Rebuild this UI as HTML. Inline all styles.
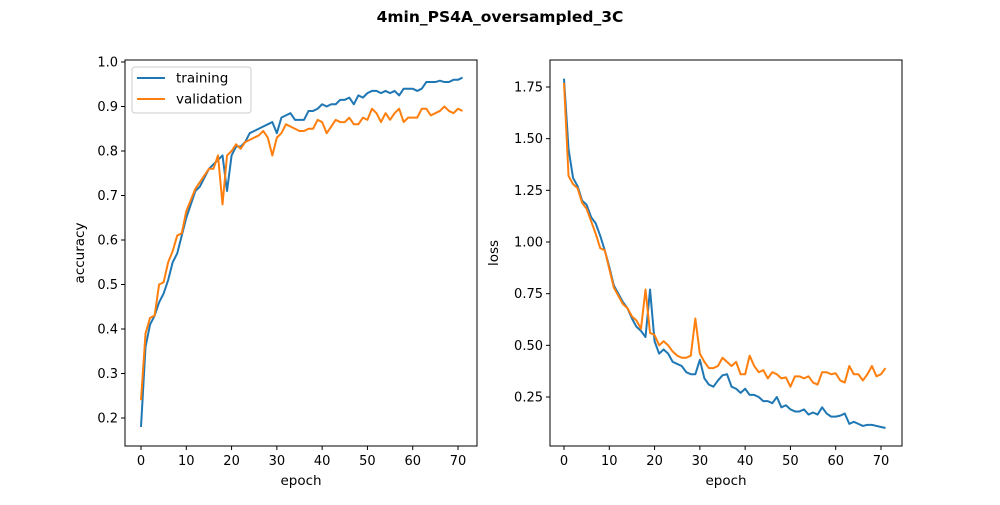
<!DOCTYPE html>
<html><head><meta charset="utf-8"><style>
body{margin:0;background:#fff}
svg{font-family:"DejaVu Sans","Liberation Sans",sans-serif}
</style></head><body>
<svg id="fig" width="1000" height="500" xmlns="http://www.w3.org/2000/svg">
<rect width="1000" height="500" fill="#fff"/>
<text x="500" y="22" text-anchor="middle" font-size="15.5" font-weight="bold">4min_PS4A_oversampled_3C</text>
</svg>
<script>
const epochs = Array.from({length:72},(_,i)=>i);
const accTrain = [0.18,0.36,0.41,0.43,0.46,0.48,0.51,0.55,0.57,0.61,0.65,0.68,0.71,0.72,0.74,0.76,0.77,0.78,0.79,0.71,0.79,0.81,0.81,0.82,0.84,0.845,0.85,0.855,0.86,0.865,0.84,0.875,0.88,0.885,0.87,0.87,0.87,0.89,0.89,0.895,0.905,0.90,0.905,0.905,0.915,0.915,0.92,0.905,0.925,0.92,0.93,0.935,0.935,0.93,0.935,0.93,0.935,0.925,0.94,0.94,0.94,0.935,0.94,0.955,0.955,0.955,0.958,0.955,0.955,0.96,0.96,0.965];
const accVal = [0.24,0.39,0.425,0.43,0.50,0.505,0.55,0.575,0.61,0.615,0.665,0.69,0.715,0.73,0.745,0.76,0.76,0.79,0.68,0.79,0.80,0.815,0.805,0.82,0.825,0.83,0.835,0.845,0.83,0.79,0.83,0.84,0.86,0.855,0.85,0.845,0.845,0.85,0.85,0.87,0.865,0.84,0.855,0.87,0.865,0.865,0.875,0.86,0.86,0.875,0.87,0.895,0.885,0.865,0.885,0.87,0.885,0.895,0.865,0.875,0.875,0.875,0.895,0.895,0.88,0.885,0.89,0.9,0.89,0.885,0.895,0.89];
const lossTrain = [1.79,1.45,1.31,1.27,1.20,1.18,1.12,1.09,1.03,0.96,0.88,0.79,0.75,0.71,0.68,0.63,0.59,0.57,0.54,0.77,0.52,0.46,0.48,0.46,0.42,0.41,0.40,0.37,0.36,0.36,0.43,0.34,0.31,0.30,0.33,0.355,0.36,0.30,0.29,0.27,0.29,0.26,0.26,0.25,0.23,0.23,0.22,0.25,0.20,0.21,0.19,0.18,0.18,0.19,0.165,0.175,0.165,0.20,0.17,0.155,0.155,0.16,0.17,0.12,0.13,0.12,0.11,0.115,0.115,0.11,0.105,0.10];
const lossVal = [1.77,1.32,1.28,1.26,1.19,1.16,1.10,1.04,0.97,0.96,0.87,0.78,0.74,0.70,0.68,0.64,0.62,0.58,0.77,0.56,0.55,0.50,0.52,0.50,0.47,0.45,0.44,0.44,0.45,0.63,0.46,0.42,0.39,0.39,0.40,0.44,0.42,0.40,0.42,0.36,0.36,0.45,0.40,0.37,0.38,0.34,0.37,0.36,0.34,0.345,0.30,0.35,0.35,0.34,0.35,0.32,0.31,0.37,0.37,0.36,0.365,0.33,0.32,0.40,0.36,0.36,0.33,0.36,0.40,0.35,0.36,0.39];
const xTicks = [0,10,20,30,40,50,60,70];
const accTicks = [0.2,0.3,0.4,0.5,0.6,0.7,0.8,0.9,1.0];
const lossTicks = [0.25,0.5,0.75,1.0,1.25,1.5,1.75];

const NS="http://www.w3.org/2000/svg";
const svg=document.getElementById('fig');
function mk(tag,attrs,parent){const e=document.createElementNS(NS,tag);for(const k in attrs)e.setAttribute(k,attrs[k]);(parent||svg).appendChild(e);return e;}

function panel(name,x0,x1,y0,y1,xp0,yv0,yv1,yp0,yp1,yTicks,fmt,ylabel,ylx,tr,va,legend){
  const g=mk('g',{});
  
  
  const X=v=>xp0+v*(317/70);
  const Y=v=>yp0+(v-yv0)*(yp1-yp0)/(yv1-yv0);
  const frame=mk('rect',{x:x0,y:y0,width:x1-x0,height:y1-y0,fill:'none',stroke:'#000','stroke-width':1},g);
  
  
  xTicks.forEach(t=>{
    const px=X(t);
    mk('line',{x1:px,x2:px,y1:y1,y2:y1+4,stroke:'#000'},g);
    const tx=mk('text',{x:px,y:y1+19,'text-anchor':'middle','font-size':13},g);
    tx.textContent=t;
    
    
  });
  yTicks.forEach(t=>{
    const py=Y(t);
    mk('line',{x1:x0-4,x2:x0,y1:py,y2:py,stroke:'#000'},g);
    const tx=mk('text',{x:x0-7,y:py+4.5,'text-anchor':'end','font-size':13},g);
    tx.textContent=fmt(t);
    
    
  });
  const xl=mk('text',{x:(x0+x1)/2,y:y1+39,'text-anchor':'middle','font-size':13.5},g);
  xl.textContent='epoch';
  
  
  const yl=mk('text',{x:0,y:0,'text-anchor':'middle','font-size':13.5,transform:`translate(${ylx},${(y0+y1)/2}) rotate(-90)`},g);
  yl.textContent=ylabel;
  
  
  [[tr,'#1f77b4','training'],[va,'#ff7f0e','validation']].forEach(([arr,c,n])=>{
    const d=arr.map((v,i)=>(i?'L':'M')+X(epochs[i]).toFixed(2)+','+Y(v).toFixed(2)).join('');
    const p=mk('path',{d:d,fill:'none',stroke:c,'stroke-width':2,'stroke-linejoin':'round'},g);
    
    
  });
  if(legend){
    const lg=mk('g',{},g);
    
    
    mk('rect',{x:x0+7,y:y0+7,width:119,height:46,rx:3,fill:'#fff',stroke:'#ccc'},lg);
    [['training','#1f77b4'],['validation','#ff7f0e']].forEach(([n,c],i)=>{
      const yy=y0+18+i*21;
      const le=mk('g',{},lg);
      
      
      mk('line',{x1:x0+12,x2:x0+40,y1:yy,y2:yy,stroke:c,'stroke-width':2},le);
      const t=mk('text',{x:x0+51,y:yy+4.5,'font-size':13.5},le);
      t.textContent=n;
    });
  }
}
panel('accuracy',125,477,60,446,141,0.2,1.0,418,62,accTicks,v=>v.toFixed(1),'accuracy',84,accTrain,accVal,true);
panel('loss',550,902,60,446,564,0.25,1.75,397,87,lossTicks,v=>v.toFixed(2),'loss',498,lossTrain,lossVal,false);
</script>
</body></html>
